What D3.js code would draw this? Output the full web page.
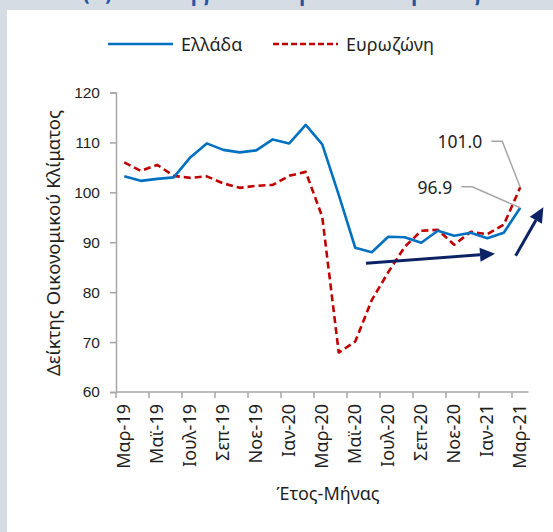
<!DOCTYPE html>
<html>
<head>
<meta charset="utf-8">
<script src="https://cdn.jsdelivr.net/npm/d3@7"></script>
<style>
  body { margin: 0; background: #ffffff; }
  svg { display: block; font-family: "Noto Sans", "DejaVu Sans", sans-serif; }
</style>
</head>
<body>
<svg id="chart" width="553" height="532"></svg>
<script>
// Monthly economic sentiment indicator, Greece vs euro area
const months = ["Μαρ-19","Απρ-19","Μαϊ-19","Ιουν-19","Ιουλ-19","Αυγ-19","Σεπ-19","Οκτ-19","Νοε-19","Δεκ-19",
                "Ιαν-20","Φεβ-20","Μαρ-20","Απρ-20","Μαϊ-20","Ιουν-20","Ιουλ-20","Αυγ-20","Σεπ-20","Οκτ-20",
                "Νοε-20","Δεκ-20","Ιαν-21","Φεβ-21","Μαρ-21"];
const greece   = [103.2,102.3,102.7,103.0,107.0,109.8,108.5,108.0,108.4,110.6,
                  109.8,113.5,109.6,99.5,88.9,88.0,91.1,91.0,89.9,92.3,
                  91.3,91.9,90.8,91.9,96.9];
const euroArea = [106.0,104.3,105.5,103.3,102.9,103.2,101.8,100.9,101.3,101.5,
                  103.3,104.1,95.1,67.9,70.1,78.4,84.0,89.1,92.3,92.5,
                  89.5,92.1,91.6,93.5,101.0];
const yTicks = [60, 70, 80, 90, 100, 110, 120];
const seriesNames = ["Ελλάδα", "Ευρωζώνη"];
// trend arrows, given as [month slot, index value] pairs
const trendArrows = [
  [[15.15, 85.8], [22.97, 87.7]],
  [[24.22, 87.3], [25.90, 97.0]]
];

const W = 553, H = 532;
const plot = { left: 116, right: 528.5, top: 92.5, bottom: 392 };
const textColor = "#1f1f1f", axisColor = "#a6a6a6";
const blue = "#0070c0", red = "#c00000", navy = "#0b2265";

const svg = d3.select("#chart");

// page frame with the panel heading running off the top edge
svg.append("rect").attr("width", W).attr("height", H).attr("fill", "#d6dce4");
svg.append("text")
  .attr("x", 82).attr("y", -1)
  .attr("font-size", 30).attr("font-weight", 600)
  .attr("textLength", 398).attr("lengthAdjust", "spacingAndGlyphs")
  .attr("fill", "#1f57a4")
  .text("(α) Δείκτης Οικονομικού Κλίματος");
svg.append("rect").attr("x", 7).attr("y", 10).attr("width", W - 7).attr("height", H - 10).attr("fill", "#ffffff");

// scales
const x = d3.scaleBand().domain(months).range([plot.left, plot.right]).padding(0);
const slot = d3.scaleLinear().domain([0, months.length]).range([plot.left, plot.right]);
const y = d3.scaleLinear().domain([60, 120]).range([plot.bottom, plot.top]);
const xc = (d, i) => x(months[i]) + x.bandwidth() / 2;

// y axis
const yAxis = svg.append("g")
  .attr("transform", `translate(${plot.left},0)`)
  .call(d3.axisLeft(y).tickValues(yTicks).tickSize(6).tickPadding(10).tickFormat(d3.format("d")));
yAxis.select(".domain").attr("stroke", axisColor).attr("stroke-width", 1.5);
yAxis.selectAll(".tick line").attr("stroke", axisColor).attr("stroke-width", 1.5);
yAxis.selectAll(".tick text").attr("fill", textColor).attr("font-size", 15.5).attr("font-family", null);

// x axis: ticks on category boundaries, labels on every second month
const xAxis = svg.append("g").attr("transform", `translate(0,${plot.bottom})`);
xAxis.append("line")
  .attr("x1", plot.left).attr("x2", plot.right)
  .attr("stroke", axisColor).attr("stroke-width", 1.5);
const labelled = months.filter((m, i) => i % 2 === 0);
xAxis.selectAll("line.tick")
  .data(labelled).join("line")
  .attr("class", "tick")
  .attr("x1", d => x(d)).attr("x2", d => x(d))
  .attr("y1", 0).attr("y2", 6)
  .attr("stroke", axisColor).attr("stroke-width", 1.5);
xAxis.selectAll("text.lbl")
  .data(labelled).join("text")
  .attr("class", "lbl")
  .attr("transform", d => `translate(${x(d) + x.bandwidth() / 2 - 1},12) rotate(-90)`)
  .attr("text-anchor", "end")
  .attr("dominant-baseline", "central")
  .attr("font-size", 18)
  .attr("fill", textColor)
  .text(d => d);

// axis titles
svg.append("text")
  .attr("x", 328).attr("y", 500)
  .attr("text-anchor", "middle")
  .attr("font-size", 18).attr("fill", textColor)
  .text("Έτος-Μήνας");
svg.append("text")
  .attr("transform", "translate(52,243) rotate(-90)")
  .attr("text-anchor", "middle").attr("dominant-baseline", "central")
  .attr("font-size", 18.5).attr("fill", textColor)
  .text("Δείκτης Οικονομικού Κλίματος");

// series lines
const line = d3.line().x(xc).y(d => y(d));
svg.append("path").datum(euroArea)
  .attr("d", line).attr("fill", "none")
  .attr("stroke", red).attr("stroke-width", 2.6)
  .attr("stroke-dasharray", "7,4").attr("stroke-linejoin", "round");
svg.append("path").datum(greece)
  .attr("d", line).attr("fill", "none")
  .attr("stroke", blue).attr("stroke-width", 2.6).attr("stroke-linejoin", "round");

// end-value callouts
const last = months.length - 1;
const callouts = [
  { v: euroArea[last], dx: -38, dy: -46 },
  { v: greece[last],   dx: -68, dy: -21 }
];
callouts.forEach(c => {
  const px = xc(null, last), py = y(c.v);
  const tx = px + c.dx, ty = py + c.dy;
  svg.append("text")
    .attr("x", tx).attr("y", ty)
    .attr("text-anchor", "end").attr("dominant-baseline", "central")
    .attr("font-size", 17.5).attr("fill", textColor)
    .text(c.v.toFixed(1));
  svg.append("polyline")
    .attr("points", [[tx + 9, ty], [tx + 20, ty], [px, py]].map(p => p.join(",")).join(" "))
    .attr("fill", "none").attr("stroke", axisColor).attr("stroke-width", 1.5);
});

// trend arrows
trendArrows.forEach(([a, b]) => {
  const x1 = slot(a[0]), y1 = y(a[1]), x2 = slot(b[0]), y2 = y(b[1]);
  const ang = Math.atan2(y2 - y1, x2 - x1);
  const headLen = 15, headHalf = 7;
  const bx = x2 - headLen * Math.cos(ang), by = y2 - headLen * Math.sin(ang);
  svg.append("line")
    .attr("x1", x1).attr("y1", y1).attr("x2", bx).attr("y2", by)
    .attr("stroke", navy).attr("stroke-width", 3);
  const nx = -Math.sin(ang) * headHalf, ny = Math.cos(ang) * headHalf;
  svg.append("polygon")
    .attr("points", [[x2, y2], [bx + nx, by + ny], [bx - nx, by - ny]].map(p => p.join(",")).join(" "))
    .attr("fill", navy);
});

// legend
const legend = svg.append("g").attr("transform", "translate(0,44)");
[[108, blue, null], [273, red, "6,3"]].forEach(([lx, col, dash], i) => {
  legend.append("line")
    .attr("x1", lx).attr("x2", lx + 65)
    .attr("stroke", col).attr("stroke-width", 2.6)
    .attr("stroke-dasharray", dash);
  legend.append("text")
    .attr("x", lx + 73).attr("y", 0)
    .attr("dominant-baseline", "central")
    .attr("font-size", 18).attr("fill", textColor)
    .text(seriesNames[i]);
});
</script>
</body>
</html>
